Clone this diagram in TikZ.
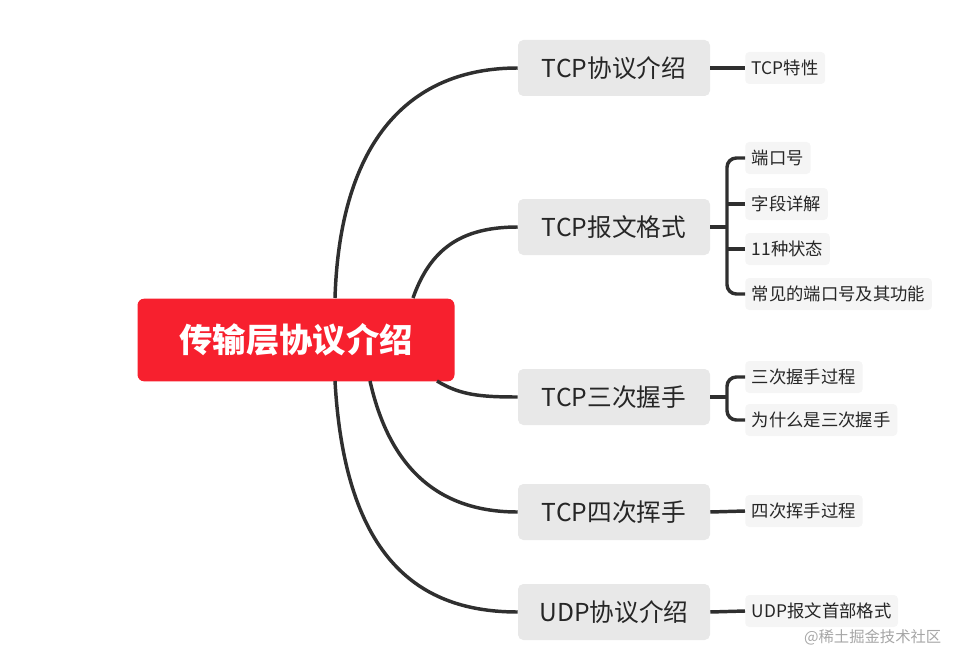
\documentclass[tikz,border=0pt]{standalone}
\usepackage{fontspec}
\setmainfont{Noto Sans CJK SC}
\definecolor{rootred}{HTML}{F7202E}
\definecolor{branchg}{HTML}{E8E8E8}
\definecolor{leafg}{HTML}{F5F5F5}
\definecolor{linec}{HTML}{2F2F2F}
\tikzset{
 rootbox/.style={fill=rootred,rounded corners=5pt,minimum width=237.75pt,minimum height=62pt,text=white,font=\fontsize{25}{27}\selectfont\bfseries},
 branchbox/.style={fill=branchg,rounded corners=4pt,minimum width=144pt,minimum height=42pt,text=black!85,font=\fontsize{18.5}{20}\selectfont},
 leafbox/.style={fill=leafg,rounded corners=3pt,minimum height=24pt,inner xsep=5pt,anchor=west,text=black!85,font=\fontsize{13}{15}\selectfont},
 conn/.style={draw=linec,line width=2.6pt},
}
\begin{document}
\begin{tikzpicture}[x=0.75pt,y=-0.75pt]
\useasboundingbox (0,0) rectangle (961,667);
\node[rootbox] (root) at (296,340) {传输层协议介绍};
\node[branchbox] (b1) at (614,68) {TCP协议介绍};
\node[branchbox] (b2) at (614,227) {TCP报文格式};
\node[branchbox] (b3) at (614,397) {TCP三次握手};
\node[branchbox] (b4) at (614,512) {TCP四次挥手};
\node[branchbox] (b5) at (614,612) {UDP协议介绍};
\coordinate (s1) at (335,298);
\coordinate (s2) at (413,298);
\coordinate (s3) at (437,381);
\coordinate (s4) at (370,381);
\coordinate (s5) at (335,381);
\draw[conn] (s1) .. controls (340,140) and (410,68) .. (b1.west);
\draw[conn] (s2) .. controls (430,250) and (460,227) .. (b2.west);
\draw[conn] (s3) .. controls (460,395) and (480,397) .. (b3.west);
\draw[conn] (s4) .. controls (390,470) and (440,512) .. (b4.west);
\draw[conn] (s5) .. controls (345,560) and (420,612) .. (b5.west);
\node[leafbox] (l1) at (745,68) {TCP特性};
\node[leafbox] (l21) at (745,158) {端口号};
\node[leafbox] (l22) at (745,204) {字段详解};
\node[leafbox] (l23) at (745,249) {11种状态};
\node[leafbox] (l24) at (745,294) {常见的端口号及其功能};
\node[leafbox] (l31) at (745,377) {三次握手过程};
\node[leafbox] (l32) at (745,420) {为什么是三次握手};
\node[leafbox] (l4) at (745,511) {四次挥手过程};
\node[leafbox] (l5) at (745,611) {UDP报文首部格式};
\draw[conn] (b1.east) -- (l1.west);
\draw[conn] (b4.east) -- (l4.west);
\draw[conn] (b5.east) -- (l5.west);
\draw[conn] (b2.east) -- (727,227);
\draw[conn,rounded corners=7pt] (l21.west) -| (727,227) |- (l24.west);
\draw[conn] (l22.west) -- (727,204);
\draw[conn] (l23.west) -- (727,249);
\draw[conn] (b3.east) -- (727,397);
\draw[conn,rounded corners=7pt] (l31.west) -| (727,397) |- (l32.west);
\node[text=black!35,font=\fontsize{11.5}{13}\selectfont,anchor=east] (wm) at (946,637) {@稀土掘金技术社区};
\end{tikzpicture}
\end{document}
